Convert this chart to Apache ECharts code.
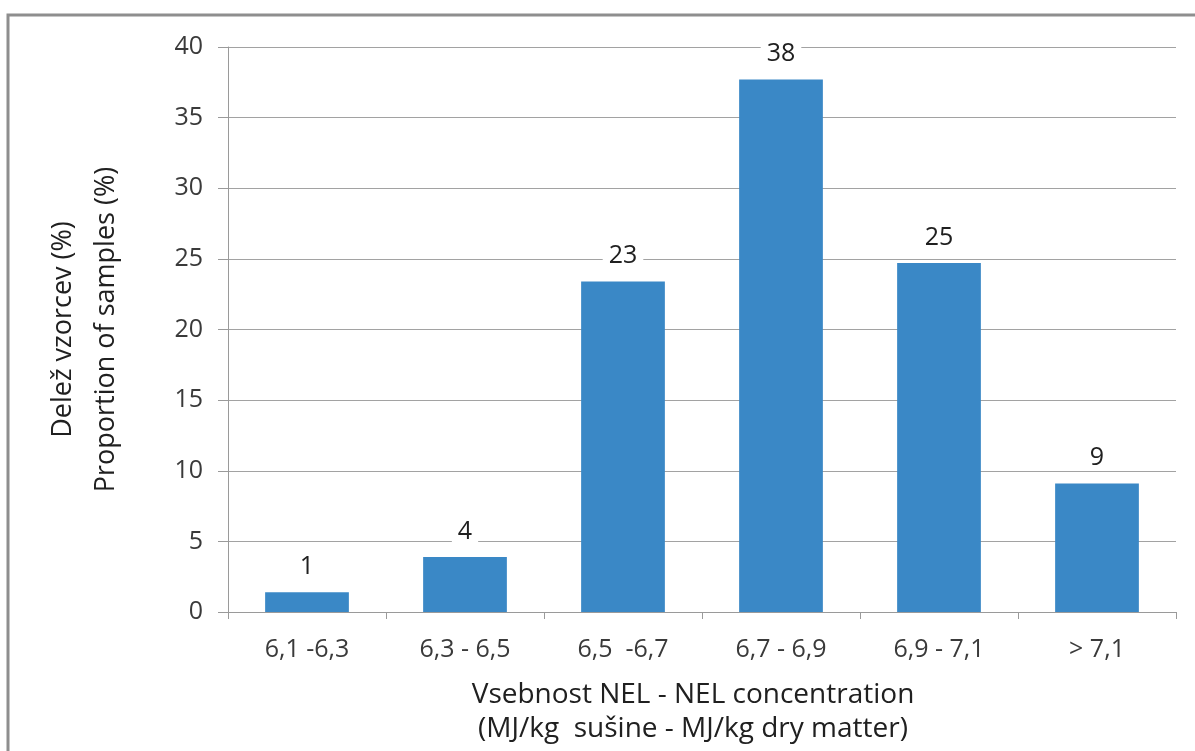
<!DOCTYPE html>
<html>
<head>
<meta charset="utf-8">
<script src="https://cdn.jsdelivr.net/npm/echarts@6/dist/echarts.min.js"></script>
<style>
  html, body { margin: 0; padding: 0; background: #fff; }
  #chart { width: 1195px; height: 751px; }
</style>
</head>
<body>
<div id="chart"></div>
<script>
// NEL concentration classes (MJ/kg dry matter)
const categories = ['6,1 -6,3', '6,3 - 6,5', '6,5  -6,7', '6,7 - 6,9', '6,9 - 7,1', '> 7,1'];
// Share of samples in each class (%)
const shares = [1.4, 3.9, 23.4, 37.7, 24.7, 9.1];
// Value axis ticks
const yTicks = [0, 5, 10, 15, 20, 25, 30, 35, 40];

const FONT = 'Open Sans';
const chart = echarts.init(document.getElementById('chart'), null, { renderer: 'canvas' });

chart.setOption({
  backgroundColor: '#ffffff',
  animation: false,
  textStyle: { fontFamily: FONT },
  graphic: [{
    type: 'rect',
    silent: true,
    shape: { x: 8, y: 15, width: 1400, height: 900 },
    style: { fill: 'none', stroke: '#8e8e8e', lineWidth: 3 }
  }],
  grid: { left: 228, right: 19, top: 47, bottom: 134, containLabel: false },
  xAxis: {
    type: 'category',
    data: categories,
    axisLine: { show: true, lineStyle: { color: '#9a9a9a', width: 1 } },
    axisTick: { show: true, alignWithLabel: false, length: 7, lineStyle: { color: '#9a9a9a' } },
    axisLabel: { color: '#3a3a3a', fontSize: 25, margin: 25, fontFamily: FONT },
    name: 'Vsebnost NEL - NEL concentration\n(MJ/kg  sušine - MJ/kg dry matter)',
    nameLocation: 'middle',
    nameGap: 66,
    nameTextStyle: { color: '#202020', fontSize: 28, lineHeight: 34, fontFamily: FONT, padding: [0, 18, 0, 0] }
  },
  yAxis: {
    type: 'value',
    min: yTicks[0],
    max: yTicks[yTicks.length - 1],
    interval: yTicks[1] - yTicks[0],
    axisLine: { show: true, lineStyle: { color: '#9a9a9a', width: 1 } },
    axisTick: { show: true, length: 10, lineStyle: { color: '#9a9a9a' } },
    splitLine: { show: true, lineStyle: { color: '#a2a2a2', width: 1 } },
    axisLabel: { color: '#3a3a3a', fontSize: 25, margin: 25, fontFamily: FONT },
    name: 'Delež vzorcev (%)\nProportion of samples (%)',
    nameLocation: 'middle',
    nameRotate: 90,
    nameGap: 100,
    nameTextStyle: { color: '#202020', fontSize: 27, lineHeight: 43, fontFamily: FONT }
  },
  series: [{
    type: 'bar',
    data: shares,
    barWidth: '53%',
    itemStyle: { color: '#3A88C6' },
    label: {
      show: true,
      position: 'top',
      distance: 13,
      color: '#202020',
      fontSize: 25,
      fontFamily: FONT,
      backgroundColor: '#ffffff',
      padding: [0, 6],
      formatter: p => Math.round(p.value)
    }
  }]
});
</script>
</body>
</html>
